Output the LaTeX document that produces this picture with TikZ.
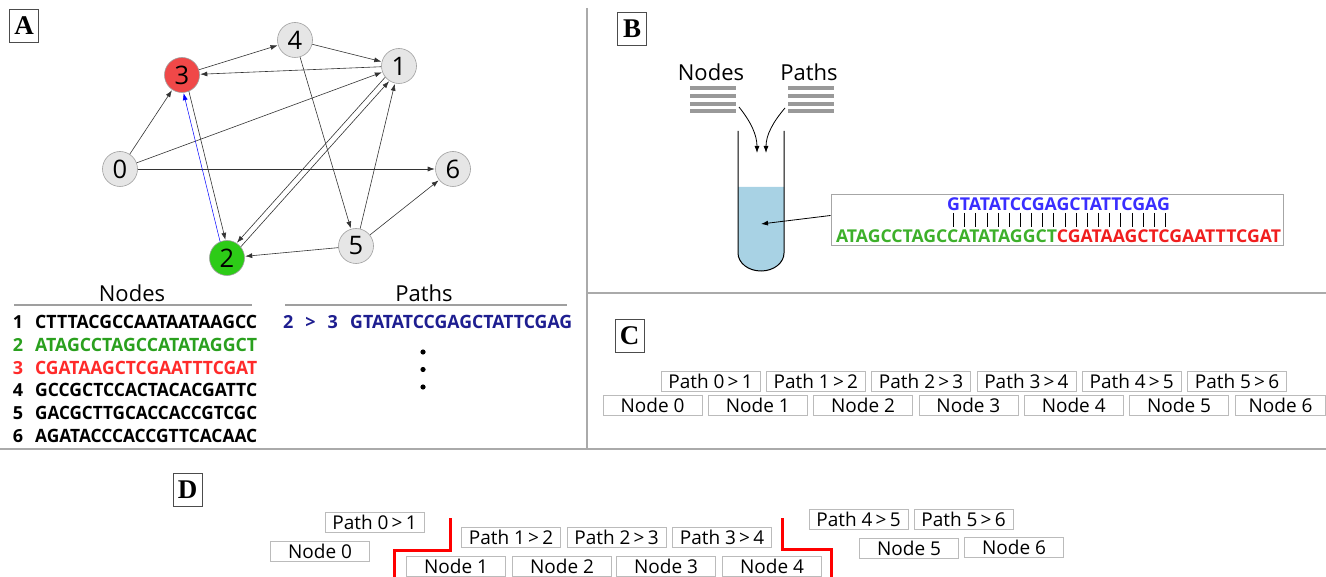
\documentclass[tikz,border=0pt]{standalone}
\usepackage{fontspec}
\usepackage{graphicx}
\newfontfamily\osans{Open Sans}
\newfontfamily\lserif{Liberation Serif}
\usetikzlibrary{arrows.meta,calc}
\definecolor{ngray}{HTML}{E6E6E6}
\definecolor{nred}{HTML}{F04848}
\definecolor{ngreen}{HTML}{2DCB17}
\definecolor{sgreen}{HTML}{2AA01E}
\definecolor{sred}{HTML}{FF2A2A}
\definecolor{snavy}{HTML}{1E1E90}
\definecolor{bblue}{HTML}{3A2EFF}
\definecolor{bgreen}{HTML}{3DB02A}
\definecolor{bred}{HTML}{F01E1E}
\definecolor{tubeblue}{HTML}{A8D2E4}
\definecolor{divgray}{HTML}{AAAAAA}
\definecolor{boxgray}{HTML}{BBBBBB}
\newcommand{\seqA}[1]{\resizebox{222pt}{13.3pt}{\osans\bfseries #1}}
\newcommand{\seqB}[2]{\resizebox{#1}{12.8pt}{\osans\bfseries #2}}
\begin{document}
\begin{tikzpicture}[x=1pt,y=-1pt,
 gnode/.style={circle,draw=gray!75,line width=0.6pt,fill=ngray,minimum size=35pt,inner sep=0pt,font=\osans\fontsize{25.5}{25.5}\selectfont},
 gedge/.style={draw=black!80,line width=0.6pt,-{Latex[length=7pt,width=5pt]},shorten >=0.5pt},
 pedge/.style={gedge,shorten <=17.5pt,shorten >=18pt},
 panel/.style={draw=divgray,line width=1.6pt},
 letterbox/.style={draw=black!70,line width=0.8pt,minimum width=29pt,minimum height=33pt,inner sep=0pt,font=\lserif\bfseries\fontsize{27}{27}\selectfont},
 hdr/.style={font=\osans\fontsize{22}{22}\selectfont,inner sep=0pt},
 numf/.style={font=\osans\bfseries\fontsize{18}{18}\selectfont,inner sep=0pt},
 seqn/.style={anchor=west,inner sep=0pt},
 cbox/.style={draw=boxgray,line width=0.8pt,minimum width=99pt,minimum height=20pt,inner sep=0pt,font=\osans\fontsize{19}{19}\selectfont},
 bar/.style={draw=gray!80,line width=3.3pt},
 harrow/.style={draw=black,line width=0.8pt,-{Latex[length=7pt,width=5pt]}},
]
\useasboundingbox (0,0) rectangle (1326,577);

% panel dividers
\draw[panel] (587,8) -- (587,449);
\draw[panel] (587,293) -- (1326,293);
\draw[panel] (0,449) -- (1326,449);

% letters
\node[letterbox] (labA) at (24,26) {A};
\node[letterbox] (labB) at (632,29) {B};
\node[letterbox] (labC) at (629.5,335.5) {C};
\node[letterbox] (labD) at (187.5,490) {D};

% ---------- Panel A graph ----------
\node[gnode] (g0) at (120,169) {0};
\node[gnode] (g1) at (399,66) {1};
\node[gnode,fill=ngreen] (g2) at (227,258) {2};
\node[gnode,fill=nred] (g3) at (182,75) {3};
\node[gnode] (g4) at (295,40) {4};
\node[gnode] (g5) at (356,246) {5};
\node[gnode] (g6) at (453,169) {6};

\draw[gedge] (g0) -- (g3);
\draw[gedge] (g0) -- (g1);
\draw[gedge] (g0) -- (g6);
\draw[gedge] (g3) -- (g4);
\draw[gedge] (g4) -- (g1);
\draw[gedge] (g1) -- (g3);
\draw[gedge] (g4) -- (g5);
\draw[gedge] (g5) -- (g1);
\draw[gedge] (g5) -- (g6);
\draw[gedge] (g5) -- (g2);
% parallel pairs
\draw[pedge] ($(g3.center)!2.8pt!90:(g2.center)$) -- ($(g2.center)!2.8pt!-90:(g3.center)$);
\draw[pedge,draw=blue,line width=0.5pt] ($(g2.center)!2.8pt!90:(g3.center)$) -- ($(g3.center)!2.8pt!-90:(g2.center)$);
\draw[pedge] ($(g1.center)!2.8pt!-90:(g2.center)$) -- ($(g2.center)!2.8pt!90:(g1.center)$);
\draw[pedge] ($(g2.center)!2.8pt!-90:(g1.center)$) -- ($(g1.center)!2.8pt!90:(g2.center)$);

% ---------- Panel A tables ----------
\node[hdr] (hN) at (132,293) {Nodes};
\node[hdr] (hP) at (424,293) {Paths};
\draw[draw=gray!75,line width=1.5pt] (14,305) -- (252,305);
\draw[draw=gray!75,line width=1.5pt] (285,305) -- (567,305);

\node[numf] (r1n) at (18,322) {1};
\node[seqn] (r1s) at (35,322) {\seqA{CTTTACGCCAATAATAAGCC}};
\node[numf,text=sgreen] (r2n) at (18,344.8) {2};
\node[seqn,text=sgreen] (r2s) at (35,344.8) {\seqA{ATAGCCTAGCCATATAGGCT}};
\node[numf,text=sred] (r3n) at (18,367.6) {3};
\node[seqn,text=sred] (r3s) at (35,367.6) {\seqA{CGATAAGCTCGAATTTCGAT}};
\node[numf] (r4n) at (18,390.4) {4};
\node[seqn] (r4s) at (35,390.4) {\seqA{GCCGCTCCACTACACGATTC}};
\node[numf] (r5n) at (18,413.2) {5};
\node[seqn] (r5s) at (35,413.2) {\seqA{GACGCTTGCACCACCGTCGC}};
\node[numf] (r6n) at (18,436) {6};
\node[seqn] (r6s) at (35,436) {\seqA{AGATACCCACCGTTCACAAC}};

\node[numf,text=snavy] (p1n) at (310.5,322) {2\hspace{12pt}>\hspace{12pt}3};
\node[seqn,text=snavy] (p1s) at (350,322) {\seqA{GTATATCCGAGCTATTCGAG}};
\fill (423,352) circle (2.6pt);
\fill (423,369.5) circle (2.6pt);
\fill (423,387) circle (2.6pt);

% ---------- Panel B ----------
\node[hdr] (bN) at (711,72) {Nodes};
\node[hdr] (bP) at (809,72) {Paths};
\foreach \yy in {88,96,104,111} {
  \draw[bar] (690,\yy) -- (736,\yy);
  \draw[bar] (788,\yy) -- (834,\yy);
}
\fill[tubeblue] (738,187) -- (738,253) arc[start angle=180,end angle=360,x radius=23pt,y radius=18pt] -- (784,187) -- cycle;
\draw[line width=1pt] (738,131) -- (738,253) arc[start angle=180,end angle=360,x radius=23pt,y radius=18pt] -- (784,131);
\coordinate (nb) at (739,107);
\coordinate (pb) at (785,108);
\coordinate (tA) at (757,153);
\coordinate (tB) at (766,153);
\draw[harrow] (nb) .. controls (751,122) and (757,135) .. (tA);
\draw[harrow] (pb) .. controls (773,122) and (766,135) .. (tB);

\node[draw=gray!70,line width=1pt,minimum width=452pt,minimum height=51pt,inner sep=0pt] (seqbox) at (1057,220.5) {};
\coordinate (lq) at (761,224);
\draw[harrow] ($(seqbox.west)+(0,-5)$) -- (lq);
\node[inner sep=0pt] (bseq) at (1058.5,204) {\seqB{223pt}{\color{bblue}GTATATCCGAGCTATTCGAG}};
\foreach \i in {0,...,19} {
  \draw[line width=0.8pt] ({953.5+11.15*\i},213) -- ({953.5+11.15*\i},227);
}
\node[inner sep=0pt] (cseq) at (1058.5,236) {\seqB{445pt}{\textcolor{bgreen}{ATAGCCTAGCCATATAGGCT}\textcolor{bred}{CGATAAGCTCGAATTTCGAT}}};

% ---------- Panel C ----------
\foreach \k/\a/\b in {0/0/1,1/1/2,2/2/3,3/3/4,4/4/5,5/5/6} {
  \node[cbox] (cp\k) at ({710.5+105.3*\k},381) {Path \a\,>\,\b};
}
\foreach \k in {0,...,5} {
  \node[cbox] (cn\k) at ({652.5+105.3*\k},405.5) {Node \k};
}
\node[cbox,minimum width=90pt] (cn6) at (1280.5,405.5) {Node 6};

% ---------- Panel D ----------
\node[cbox] (dp01) at (374.5,522.5) {Path 0\,>\,1};
\node[cbox] (dn0) at (320,551.5) {Node 0};
\node[cbox] (dp12) at (511,537) {Path 1\,>\,2};
\node[cbox] (dp23) at (616.5,537) {Path 2\,>\,3};
\node[cbox] (dp34) at (722,537) {Path 3\,>\,4};
\node[cbox] (dn1) at (456,566.5) {Node 1};
\node[cbox] (dn2) at (562,566.5) {Node 2};
\node[cbox] (dn3) at (666,566.5) {Node 3};
\node[cbox] (dn4) at (772,566.5) {Node 4};
\node[cbox] (dp45) at (858.5,519.5) {Path 4\,>\,5};
\node[cbox] (dp56) at (963.5,519.5) {Path 5\,>\,6};
\node[cbox] (dn5) at (909,548.5) {Node 5};
\node[cbox] (dn6) at (1014,547.5) {Node 6};

\draw[red,line width=3pt] (450,518) -- (450,550) -- (394,550) -- (394,578);
\draw[red,line width=3pt] (782,518) -- (782,549) -- (831,549) -- (831,578);
\end{tikzpicture}
\end{document}
